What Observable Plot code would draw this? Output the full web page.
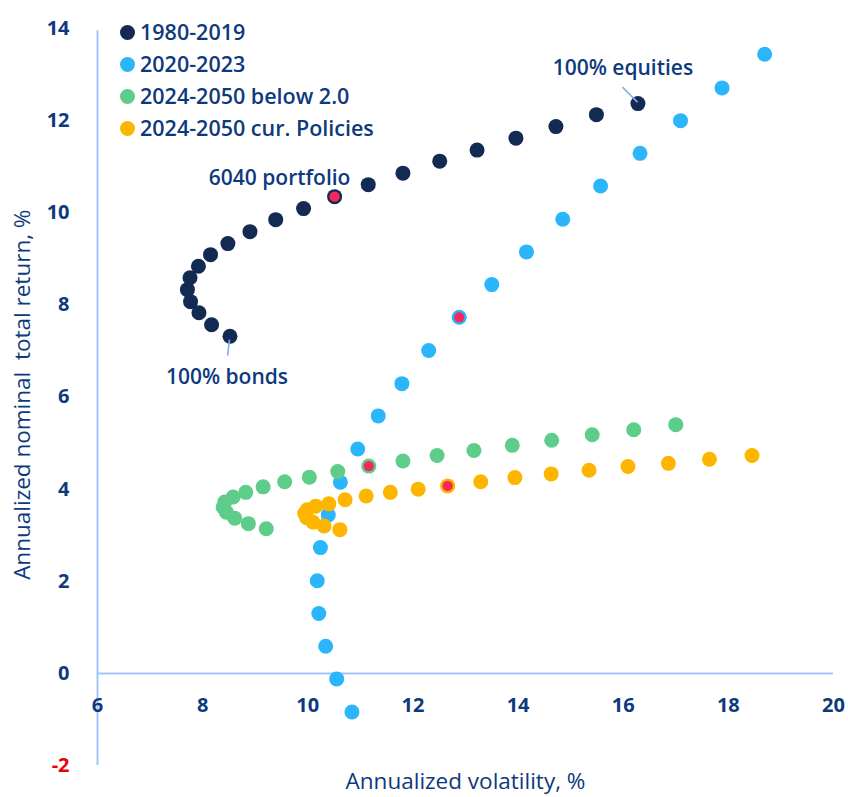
<!DOCTYPE html>
<html><head><meta charset="utf-8">
<script src="https://cdn.jsdelivr.net/npm/d3@7"></script>
<script src="https://cdn.jsdelivr.net/npm/@observablehq/plot@0.6"></script>
<style>
body{margin:0;background:#fff;font-family:"Open Sans",sans-serif;}
#wrap{position:relative;width:848px;height:797px;}
#legend{position:absolute;left:120px;top:16px;color:#0d3a7c;font-weight:600;font-size:21.5px;line-height:32px;}
#legend div{display:flex;align-items:center;white-space:nowrap;}
#legend span.dot{display:inline-block;width:15px;height:15px;border-radius:50%;margin-right:5px;}
</style></head><body>
<div id="wrap"><div id="chart"></div><div id="legend"></div></div>
<script>
const series = ["1980-2019","2020-2023","2024-2050 below 2.0","2024-2050 cur. Policies"];
const colors = ["#132a52","#2bb6fb","#5fcd8a","#fdb500"];
const highlightColor = "#f5285a";
const vol1980 = [8.52,8.17,7.93,7.77,7.71,7.76,7.92,8.15,8.48,8.90,9.39,9.92,10.51,11.15,11.81,12.51,13.22,13.96,14.72,15.49,16.28];
const ret1980 = [7.32,7.57,7.83,8.07,8.33,8.59,8.84,9.09,9.33,9.59,9.85,10.09,10.35,10.61,10.86,11.12,11.36,11.62,11.87,12.13,12.37];
const vol2020 = [10.84,10.55,10.34,10.21,10.18,10.24,10.39,10.62,10.95,11.34,11.79,12.30,12.88,13.50,14.16,14.85,15.57,16.32,17.09,17.88,18.69];
const ret2020 = [-0.84,-0.12,0.59,1.30,2.01,2.73,3.44,4.15,4.87,5.59,6.29,7.01,7.73,8.44,9.15,9.86,10.58,11.29,12.00,12.71,13.44];
const volBelow2 = [9.21,8.87,8.61,8.45,8.39,8.42,8.58,8.82,9.15,9.56,10.03,10.57,11.16,11.81,12.46,13.16,13.89,14.64,15.41,16.20,17.00];
const retBelow2 = [3.14,3.25,3.37,3.50,3.61,3.72,3.83,3.93,4.05,4.16,4.26,4.38,4.50,4.61,4.73,4.84,4.95,5.06,5.18,5.29,5.40];
const volCurPol = [10.61,10.31,10.10,9.98,9.94,9.99,10.15,10.40,10.71,11.11,11.57,12.10,12.66,13.29,13.94,14.63,15.35,16.09,16.86,17.64,18.45];
const retCurPol = [3.12,3.20,3.28,3.38,3.47,3.55,3.63,3.68,3.77,3.85,3.93,4.00,4.07,4.16,4.25,4.33,4.41,4.49,4.56,4.65,4.73];
const portfolioIndex = 12; // 60/40 portfolio
const xTicks = [6,8,10,12,14,16,18,20];
const yTicks = [-2,0,2,4,6,8,10,12,14];
const annotations = [
  {label:"100% equities", s:0, i:20},
  {label:"6040 portfolio", s:0, i:12},
  {label:"100% bonds", s:0, i:0}
];

const vols=[vol1980,vol2020,volBelow2,volCurPol], rets=[ret1980,ret2020,retBelow2,retCurPol];
const data = [];
series.forEach((s,k)=>vols[k].forEach((v,i)=>data.push({series:s,k,i,vol:v,ret:rets[k][i]})));
const hl = data.filter(d=>d.i===portfolioIndex);
const pt = (a)=>data.find(d=>d.k===a.s&&d.i===a.i);
const eq = pt(annotations[0]), pf = pt(annotations[1]), bd = pt(annotations[2]);

const navyText = "#0d3a7c", axisColor = "#a3c5f5";
const F = "Open Sans";
const chart = Plot.plot({
  width:848, height:797,
  marginLeft:97, marginRight:15, marginTop:28, marginBottom:32,
  x:{domain:[6,20], axis:null}, y:{domain:[-2,14], axis:null},
  style:{fontFamily:F, background:"#fff", overflow:"visible"},
  marks:[
    Plot.ruleX([6],{y1:-2,y2:13.95,stroke:axisColor,strokeWidth:2}),
    Plot.ruleY([0],{x1:6,x2:20,stroke:axisColor,strokeWidth:2}),
    Plot.axisY({ticks:yTicks,tickSize:0,tickPadding:28,fontSize:20,fontWeight:700,label:null,
      tickFormat:d=>String(d), fill:d=>d<0?"#e8000b":navyText}),
    Plot.text(xTicks,{x:d=>d,y:0,dy:32,text:d=>String(d),fontSize:20,fontWeight:700,fill:navyText}),
    Plot.text(["Annualized volatility, %"],{x:13,y:-2,dy:16,text:d=>d,fontSize:22.5,fontWeight:500,fill:navyText}),
    Plot.text(["Annualized nominal  total return, %"],{x:6,y:6.05,dx:-75,rotate:-90,text:d=>d,fontSize:22.5,fontWeight:500,fill:navyText,style:"white-space:pre"}),
    Plot.dot(data,{x:"vol",y:"ret",r:7.5,fill:d=>colors[d.k]}),
    Plot.dot(hl,{x:"vol",y:"ret",r:6,fill:highlightColor,stroke:d=>colors[d.k],strokeWidth:1.6}),
    Plot.text([annotations[0]],{x:eq.vol,y:eq.ret,dx:-15,dy:-35,text:"label",fontSize:21,fontWeight:600,fill:navyText}),
    Plot.text([annotations[1]],{x:pf.vol,y:pf.ret,dx:-55,dy:-18,text:"label",fontSize:21,fontWeight:600,fill:navyText}),
    Plot.text([annotations[2]],{x:bd.vol,y:bd.ret,dx:-3,dy:41,text:"label",fontSize:21,fontWeight:600,fill:navyText})
  ]
});
document.getElementById("chart").appendChild(chart);
const svg = d3.select(chart);
const sx = chart.scale("x"), sy = chart.scale("y");
svg.append("line").attr("x1",sx.apply(eq.vol)-15).attr("y1",sy.apply(eq.ret)-16).attr("x2",sx.apply(eq.vol)).attr("y2",sy.apply(eq.ret)-1).attr("stroke","#7fb0f0").attr("stroke-width",1.6);
svg.append("line").attr("x1",sx.apply(bd.vol)).attr("y1",sy.apply(bd.ret)+4).attr("x2",sx.apply(bd.vol)-2).attr("y2",sy.apply(bd.ret)+20).attr("stroke","#7fb0f0").attr("stroke-width",1.6);
const lg = document.getElementById("legend");
series.forEach((s,k)=>{const d=document.createElement("div");d.innerHTML=`<span class="dot" style="background:${colors[k]}"></span>${s}`;lg.appendChild(d);});
</script>
</body></html>
